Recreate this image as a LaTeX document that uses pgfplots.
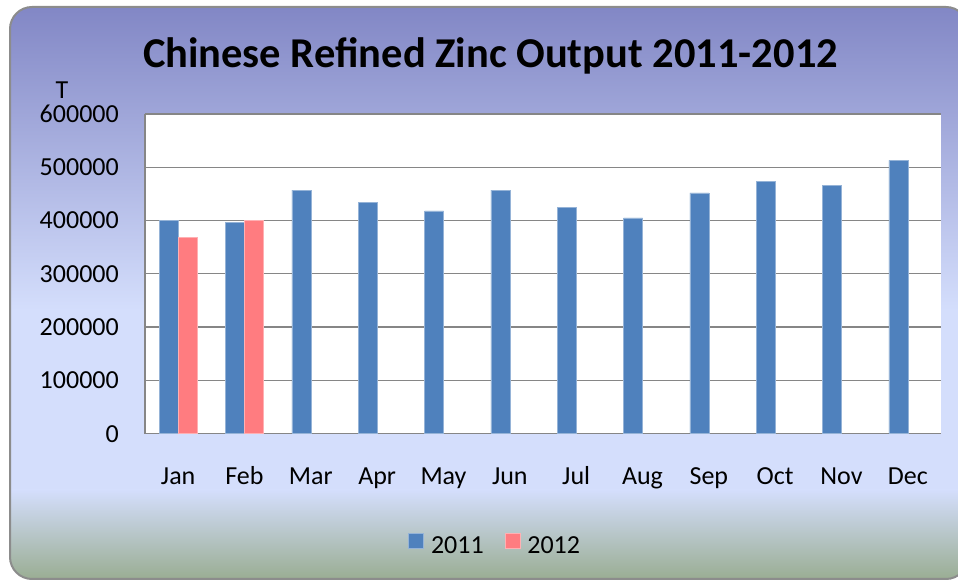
\documentclass[border=0pt]{standalone}
\usepackage{fontspec}
\setmainfont{Carlito}
\usepackage{pgfplots}
\pgfplotsset{compat=1.18}
\definecolor{bgtop}{RGB}{128,133,196}
\definecolor{bgmid}{RGB}{212,222,252}
\definecolor{bgbot}{RGB}{150,170,140}
\definecolor{barblue}{RGB}{79,129,189}
\definecolor{barpink}{RGB}{255,124,128}
\definecolor{gridgray}{RGB}{134,134,134}
\definecolor{framegray}{RGB}{140,140,140}
\begin{document}
\begin{tikzpicture}
\useasboundingbox (0pt,0pt) rectangle (958pt,580pt);
\begin{scope}
\clip (0pt,0pt) rectangle (958pt,580pt);
\begin{scope}
\clip[rounded corners=22pt] (10pt,1pt) rectangle (968pt,573pt);
\shade[top color=bgtop, bottom color=bgmid] (0pt,270pt) rectangle (970pt,580pt);
\fill[bgmid] (0pt,89.5pt) rectangle (970pt,270.5pt);
\shade[top color=bgmid, bottom color=bgbot] (0pt,-5pt) rectangle (970pt,90pt);
\end{scope}
\draw[line width=2pt, framegray, rounded corners=22pt] (10pt,1pt) rectangle (968pt,573pt);
\end{scope}
\node[anchor=base, font=\fontsize{42.5}{48}\selectfont\bfseries] at (490.5pt,512pt) {Chinese Refined Zinc Output 2011-2012};
\node[anchor=base, font=\fontsize{26}{30}\selectfont] at (62pt,481pt) {T};
\begin{axis}[
  at={(145pt,146.3pt)}, anchor=south west,
  scale only axis, width=796pt, height=319.7pt,
  xmin=-0.5, xmax=11.5, ymin=0, ymax=600000,
  axis background/.style={fill=white},
  axis x line=bottom, axis y line=left,
  axis line style={-, draw=gridgray, line width=1.6pt},
  xtick={0,...,11},
  xticklabels={Jan,Feb,Mar,Apr,May,Jun,Jul,Aug,Sep,Oct,Nov,Dec},
  ytick={0,100000,...,600000},
  scaled y ticks=false,
  /pgf/number format/fixed,
  /pgf/number format/1000 sep={},
  /pgf/number format/assume math mode=true,
  major tick length=0pt,
  tick style={draw=none},
  ymajorgrids,
  grid style={draw=gridgray, line width=1.3pt},
  tick label style={font=\fontsize{26}{30}\selectfont},
  x tick label style={anchor=base, inner sep=0pt, yshift=-50.5pt},
  y tick label style={anchor=east, inner sep=0pt, xshift=-26pt},
  legend columns=2,
  legend style={at={(0.44,-0.348)}, anchor=center, draw=none, fill=none,
    font=\fontsize{26}{30}\selectfont,
    /tikz/every even column/.append style={column sep=19pt}},
  legend image code/.code={\fill[#1] (0pt,-3pt) rectangle (15pt,12pt); \path (0pt,0pt) (20pt,0pt);},
]
\addplot[ybar, bar width=19pt, bar shift=-9.5pt, fill=barblue, draw=barblue!60!white, line width=0.6pt]
  coordinates {(0,401000) (1,397000) (2,457000) (3,434000) (4,418000) (5,457000) (6,424000) (7,405000) (8,452000) (9,473000) (10,466000) (11,513000)};
\addplot[ybar, bar width=19pt, bar shift=9.5pt, fill=barpink, draw=barpink!60!white, line width=0.6pt]
  coordinates {(0,369000) (1,401000)};
\legend{2011,2012}
\end{axis}
\end{tikzpicture}
\end{document}
